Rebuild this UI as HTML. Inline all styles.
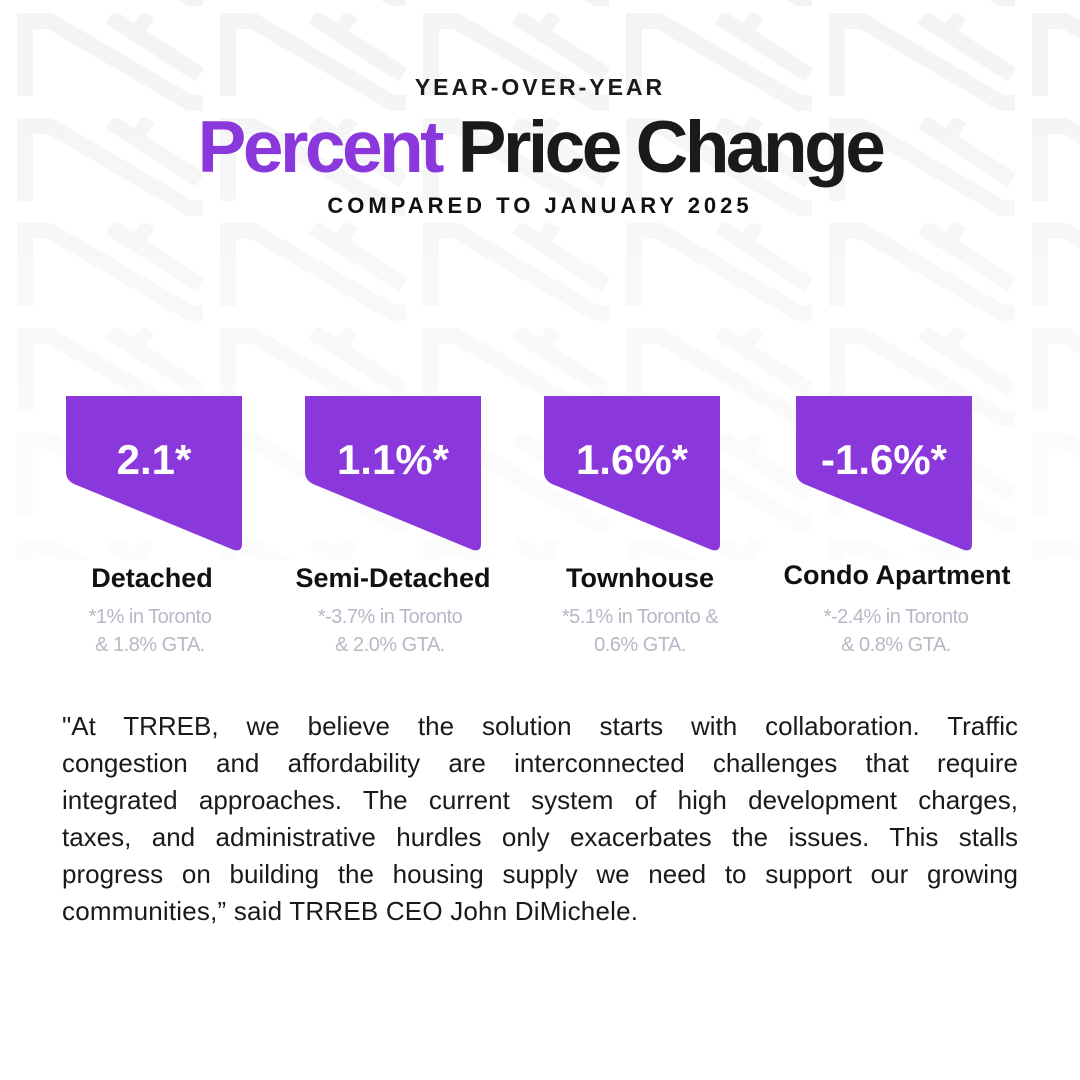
<!DOCTYPE html>
<html><head><meta charset="utf-8"><style>
body{margin:0;width:1080px;height:1080px;background:#fff;position:relative;overflow:hidden;font-family:"Liberation Sans",sans-serif}
.abs{position:absolute}
.bg{position:absolute;left:0;top:0}
.t1{left:0;width:1080px;top:74px;text-align:center;font-size:23px;font-weight:bold;letter-spacing:3px;color:#1a1a1a}
.t2{left:0;width:1080px;top:106px;text-align:center;font-size:73px;font-weight:bold;letter-spacing:-3.5px;color:#1a1a1a}
.t2 span{color:#8a38db}
.t3{left:0;width:1080px;top:193px;text-align:center;font-size:22px;font-weight:bold;letter-spacing:4px;color:#111}
.card{position:absolute;top:396px;width:176px;height:156px}
.num{position:absolute;left:0;width:176px;top:40px;text-align:center;color:#fff;font-weight:bold;font-size:42px}
.lab{position:absolute;top:563px;text-align:center;font-weight:bold;font-size:27px;color:#111;width:260px}
.sub{position:absolute;top:603px;text-align:center;font-size:20px;line-height:28px;color:#bdb4c6;width:260px;letter-spacing:-0.5px}
.p{left:62px;width:956px;top:708px;font-size:26px;line-height:37px;color:#1a1a1a}
.p div{text-align:justify;text-align-last:justify;white-space:nowrap}
.p div.l{text-align-last:left;letter-spacing:0.2px}
</style></head><body>
<svg class="bg" width="1080" height="560" viewBox="0 0 1080 560">
<defs>
<linearGradient id="fd" x1="0" y1="0" x2="0" y2="1"><stop offset="0" stop-color="#fff" stop-opacity="0.9"/><stop offset="1" stop-color="#fff" stop-opacity="0.2"/></linearGradient>
<mask id="mk"><rect width="1080" height="560" fill="url(#fd)"/></mask>
<pattern id="pt" width="203" height="105" patternUnits="userSpaceOnUse" x="0" y="13">
<g fill="none" stroke="#f2f2f2" stroke-width="16">
<path d="M25 0 V83 M25 8 H50 L190 90 H230"/>
<path d="M110 4 L200 62"/>
<path d="M138 4 L150 12"/>
</g></pattern></defs>
<rect width="1080" height="560" fill="url(#pt)" mask="url(#mk)"/>
</svg>
<div class="abs t1">YEAR-OVER-YEAR</div>
<div class="abs t2"><span>Percent</span> Price Change</div>
<div class="abs t3">COMPARED TO JANUARY 2025</div>

<svg class="card" style="left:66px" viewBox="0 0 176 156"><path d="M0 0H176V148Q176 156 168 154L8 88Q0 84 0 76Z" fill="#8a38db"/></svg>
<div class="card" style="left:66px"><div class="num">2.1*</div></div>
<svg class="card" style="left:305px" viewBox="0 0 176 156"><path d="M0 0H176V148Q176 156 168 154L8 88Q0 84 0 76Z" fill="#8a38db"/></svg>
<div class="card" style="left:305px"><div class="num">1.1%*</div></div>
<svg class="card" style="left:544px" viewBox="0 0 176 156"><path d="M0 0H176V148Q176 156 168 154L8 88Q0 84 0 76Z" fill="#8a38db"/></svg>
<div class="card" style="left:544px"><div class="num">1.6%*</div></div>
<svg class="card" style="left:796px" viewBox="0 0 176 156"><path d="M0 0H176V148Q176 156 168 154L8 88Q0 84 0 76Z" fill="#8a38db"/></svg>
<div class="card" style="left:796px"><div class="num">-1.6%*</div></div>

<div class="lab" style="left:22px">Detached</div>
<div class="lab" style="left:263px">Semi-Detached</div>
<div class="lab" style="left:510px">Townhouse</div>
<div class="lab" style="left:767px;top:560px">Condo Apartment</div>
<div class="sub" style="left:20px">*1% in Toronto<br>&amp; 1.8% GTA.</div>
<div class="sub" style="left:260px">*-3.7% in Toronto<br>&amp; 2.0% GTA.</div>
<div class="sub" style="left:510px">*5.1% in Toronto &amp;<br>0.6% GTA.</div>
<div class="sub" style="left:766px">*-2.4% in Toronto<br>&amp; 0.8% GTA.</div>

<div class="abs p">
<div>"At TRREB, we believe the solution starts with collaboration. Traffic</div>
<div>congestion and affordability are interconnected challenges that require</div>
<div>integrated approaches. The current system of high development charges,</div>
<div>taxes, and administrative hurdles only exacerbates the issues. This stalls</div>
<div>progress on building the housing supply we need to support our growing</div>
<div class="l">communities,” said TRREB CEO John DiMichele.</div>
</div>
</body></html>
